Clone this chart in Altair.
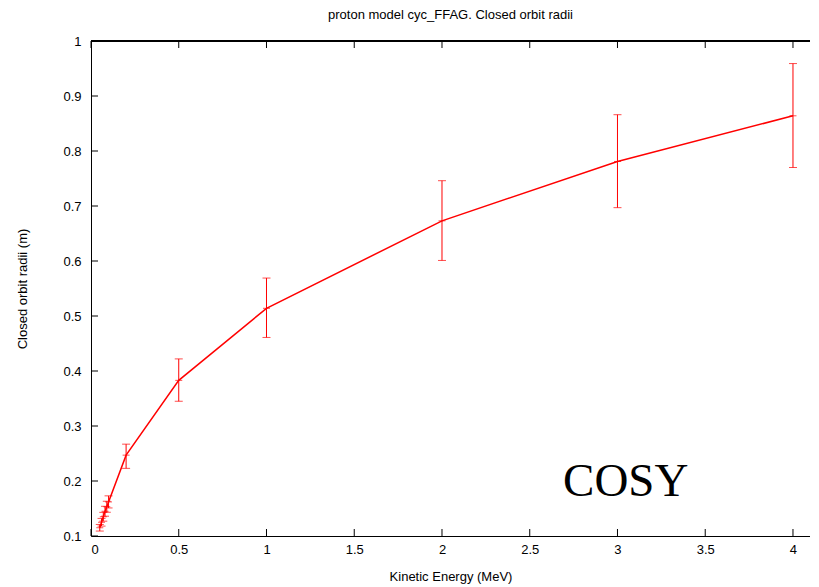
import altair as alt
import pandas as pd

# ---- data ----
energy = [0.05, 0.06, 0.07, 0.08, 0.09, 0.1, 0.2, 0.5, 1.0, 2.0, 3.0, 4.0]
radius = [0.115, 0.125, 0.135, 0.145, 0.153, 0.162, 0.247, 0.383, 0.514, 0.673, 0.781, 0.864]
r_low = [0.109, 0.118, 0.127, 0.136, 0.143, 0.151, 0.223, 0.345, 0.461, 0.601, 0.697, 0.770]
r_high = [0.121, 0.132, 0.143, 0.154, 0.163, 0.173, 0.267, 0.422, 0.569, 0.746, 0.866, 0.959]

x_ticks = [0, 0.5, 1, 1.5, 2, 2.5, 3, 3.5, 4]
y_ticks = [0.1, 0.2, 0.3, 0.4, 0.5, 0.6, 0.7, 0.8, 0.9, 1.0]

title = "proton model cyc_FFAG. Closed orbit radii"
x_title = "Kinetic Energy (MeV)"
y_title = "Closed orbit radii (m)"
annot = ["COSY"]
annot_x = [2.69]
annot_y = [0.173]

W, H = 719, 495
XMAX = 4.097
RED = "#ff0000"
FONT = "Liberation Sans"

df = pd.DataFrame({"E": energy, "r": radius, "lo": r_low, "hi": r_high})
xt = pd.DataFrame({"v": x_ticks})
yt = pd.DataFrame({"v": y_ticks})
an = pd.DataFrame({"t": annot, "x": annot_x, "y": annot_y})

xs = alt.Scale(domain=[0, XMAX], nice=False, zero=False)
ys = alt.Scale(domain=[0.1, 1.0], nice=False, zero=False)

xaxis = alt.Axis(values=x_ticks, format="~g", ticks=False, grid=False,
                 labelPadding=7, title=x_title, titleY=40, titleBaseline="middle",
                 titleFontWeight="normal")
yaxis = alt.Axis(values=y_ticks, format="~g", ticks=False, grid=False,
                 labelPadding=10, title=y_title, titleX=-69, titleY=H / 2,
                 titleBaseline="middle", titleFontWeight="normal")

base = alt.Chart(df)

line = base.mark_line(color=RED, strokeWidth=1.5).encode(
    x=alt.X("E:Q", scale=xs, axis=xaxis),
    y=alt.Y("r:Q", scale=ys, axis=yaxis),
)
bars = base.mark_rule(color=RED, strokeWidth=1).encode(
    x=alt.X("E:Q", scale=xs), y=alt.Y("lo:Q", scale=ys), y2="hi:Q"
)
cap_lo = base.mark_tick(color=RED, size=8, thickness=1, orient="horizontal").encode(
    x=alt.X("E:Q", scale=xs), y=alt.Y("lo:Q", scale=ys)
)
cap_hi = base.mark_tick(color=RED, size=8, thickness=1, orient="horizontal").encode(
    x=alt.X("E:Q", scale=xs), y=alt.Y("hi:Q", scale=ys)
)
cen = base.mark_tick(color=RED, size=7, thickness=1, orient="horizontal").encode(
    x=alt.X("E:Q", scale=xs), y=alt.Y("r:Q", scale=ys)
)

xtick_b = alt.Chart(xt).mark_rule(color="black", strokeWidth=1).encode(
    x=alt.X("v:Q", scale=xs), y=alt.value(H), y2=alt.value(H - 7)
)
xtick_t = alt.Chart(xt).mark_rule(color="black", strokeWidth=1).encode(
    x=alt.X("v:Q", scale=xs), y=alt.value(0), y2=alt.value(7)
)
ytick_l = alt.Chart(yt).mark_rule(color="black", strokeWidth=1).encode(
    y=alt.Y("v:Q", scale=ys), x=alt.value(0), x2=alt.value(7)
)
top_border = alt.Chart(xt).mark_rule(color="black", strokeWidth=1).encode(
    x=alt.value(0), x2=alt.value(W), y=alt.value(0)
)

cosy = alt.Chart(an).mark_text(font="Liberation Serif", fontSize=47, align="left",
                               baseline="alphabetic", color="black").encode(
    x=alt.X("x:Q", scale=xs), y=alt.Y("y:Q", scale=ys), text="t:N"
)

chart = alt.layer(
    xtick_b, xtick_t, ytick_l, top_border, bars, cap_lo, cap_hi, line, cen, cosy
).properties(
    width=W, height=H,
    title=alt.TitleParams(title, fontSize=13, fontWeight="normal", font=FONT,
                          anchor="middle", offset=13, color="black"),
    autosize=alt.AutoSizeParams(type="none"),
    padding={"left": 83, "top": 33, "right": 0, "bottom": 49},
).configure_view(stroke=None).configure_axis(
    domainColor="black", domainWidth=1, labelFont=FONT, titleFont=FONT,
    labelFontSize=13, titleFontSize=13, labelColor="black", titleColor="black",
)

chart.save("out.html", embed_options={"renderer": "svg", "actions": False})
